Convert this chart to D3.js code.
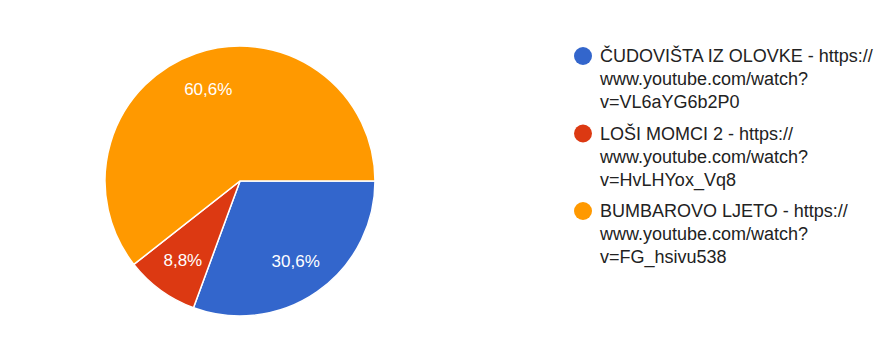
<!DOCTYPE html>
<html>
<head>
<meta charset="utf-8">
<script src="https://cdn.jsdelivr.net/npm/d3@7"></script>
<style>
  body { margin: 0; background: #fff; }
  text { font-family: Arial, "Liberation Sans", sans-serif; }
</style>
</head>
<body>
<div id="chart"></div>
<script>
// --------------------------------------
//  Data
// --------------------------------------

const titles = ["ČUDOVIŠTA IZ OLOVKE", "LOŠI MOMCI 2", "BUMBAROVO LJETO"];
const links = ["v=VL6aYG6b2P0", "v=HvLHYox_Vq8", "v=FG_hsivu538"];
const shares = [30.6, 8.8, 60.6];
const colors = ["#3366cc", "#dc3912", "#ff9900"];

// --------------------------------------
//  Canvas
// --------------------------------------

const width = 884;
const height = 352;
const cx = 240, cy = 181, radius = 135;

const svg = d3.select("#chart")
  .append("svg")
    .attr("width", width)
    .attr("height", height)
    .attr("viewBox", `0, 0, ${width}, ${height}`);

const pieGroup = svg.append("g")
    .attr("transform", `translate(${cx}, ${cy})`);

// --------------------------------------
//  Pie
// --------------------------------------

const slices = d3.pie()
    .value(d => d)
    .sort(null)
    .startAngle(Math.PI / 2)
    .endAngle(Math.PI / 2 + 2 * Math.PI)(shares);

const arc = d3.arc().innerRadius(0).outerRadius(radius);
const labelArc = d3.arc().innerRadius(radius * 0.72).outerRadius(radius * 0.72);

pieGroup.selectAll("path")
  .data(slices)
  .join("path")
    .attr("d", arc)
    .attr("fill", (d, i) => colors[i])
    .attr("stroke", "#fff")
    .attr("stroke-width", 1.5);

pieGroup.selectAll("text")
  .data(slices)
  .join("text")
    .attr("transform", d => `translate(${labelArc.centroid(d)})`)
    .attr("text-anchor", "middle")
    .attr("dy", "0.36em")
    .attr("fill", "#fff")
    .attr("font-size", 17)
    .text(d => d3.format(".1f")(d.value).replace(".", ",") + "%");

// --------------------------------------
//  Legend
// --------------------------------------

const legend = svg.append("g")
    .attr("transform", "translate(583, 0)");

const entryY = d3.scaleLinear().domain([0, 1]).range([62, 139.5]);
const lineH = 23.2;

titles.forEach((t, i) => {
  const g = legend.append("g")
      .attr("transform", `translate(0, ${entryY(i)})`);

  g.append("circle")
      .attr("cx", 0)
      .attr("cy", -6)
      .attr("r", 9)
      .attr("fill", colors[i]);

  const lines = [t + " - https://", "www.youtube.com/watch?", links[i]];
  g.selectAll("text")
    .data(lines)
    .join("text")
      .attr("x", 17)
      .attr("y", (d, j) => j * lineH)
      .attr("font-size", 18)
      .attr("fill", "#222")
      .text(d => d);
});
</script>
</body>
</html>
